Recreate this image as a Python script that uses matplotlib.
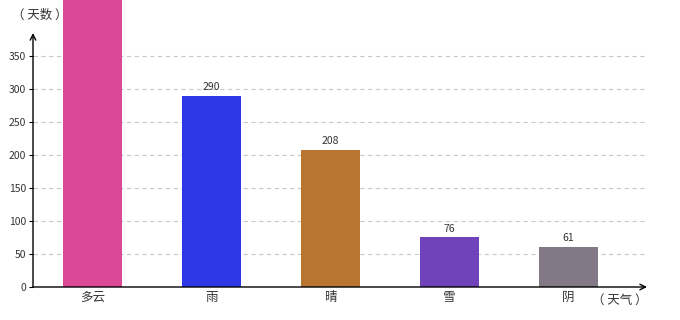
import numpy as np
import matplotlib.pyplot as plt

plt.rcParams['font.family'] = ['Noto Sans CJK SC', 'DejaVu Sans']

categories = ["多云", "雨", "晴", "雪", "阴"]
days = [480, 290, 208, 76, 61]
colors = ["#DA4896", "#2E37E6", "#B8752F", "#7043BA", "#837885"]
yticks = [0, 50, 100, 150, 200, 250, 300, 350]

fig = plt.figure(figsize=(6.8, 3.2), dpi=100)
ax = fig.add_axes([33/680, 33/320, (647-33)/680, (287-33)/320])
ymax = 385

x = np.arange(len(categories))
ax.bar(x, days, width=0.5, color=colors, zorder=2, clip_on=False)
for xi, v in zip(x, days):
    # label of the tallest bar sits above the picture, so it is not shown
    if v < ymax:
        ax.text(xi, v + 5, str(v), ha="center", va="bottom", fontsize=7.5, color="#333333")

ax.set_xlim(-0.5, 4.66)
ax.set_ylim(0, ymax)
ax.set_yticks(yticks)
ax.set_xticks(x)
ax.set_xticklabels(categories, fontsize=9, color="#333333")
ax.tick_params(axis="y", labelsize=7.5, labelcolor="#333333", length=3, width=0.8, pad=2)
ax.tick_params(axis="x", length=0, pad=3)
for v in yticks[1:]:
    ax.plot([-0.5, 4.64], [v, v], color="#c8c8c8", lw=0.8, ls=(0, (4, 3)), zorder=1)

for s in ["top", "right", "bottom", "left"]:
    ax.spines[s].set_visible(False)
ax.annotate("", xy=(1, 0), xytext=(0, 0), xycoords="axes fraction",
            arrowprops=dict(arrowstyle="->", color="black", lw=1, shrinkA=0, shrinkB=0))
ax.annotate("", xy=(0, 1), xytext=(0, 0), xycoords="axes fraction",
            arrowprops=dict(arrowstyle="->", color="black", lw=1, shrinkA=0, shrinkB=0))

fig.text(40/680, 1 - 15/320, "（ 天数 ）", ha="center", va="center", fontsize=9, color="#333333")
fig.text(620/680, 1 - 300/320, "（ 天气 ）", ha="center", va="center", fontsize=9, color="#333333")

fig.savefig("out.png", dpi=100)
